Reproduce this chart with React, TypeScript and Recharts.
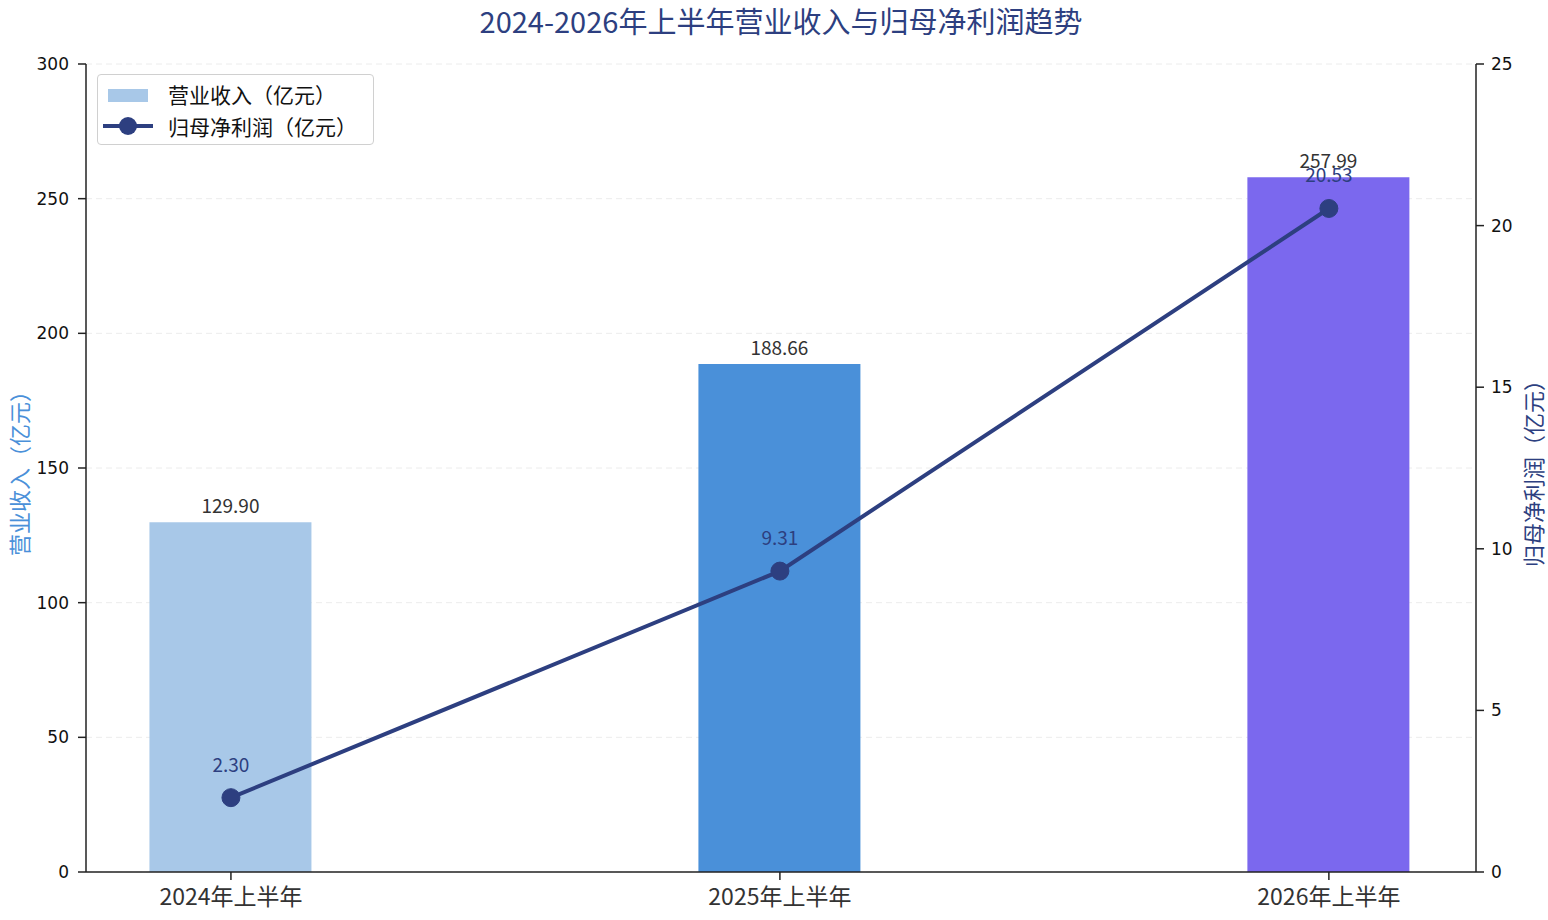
import {
  Bar,
  CartesianGrid,
  Cell,
  ComposedChart,
  LabelList,
  Line,
  XAxis,
  YAxis,
} from "recharts";

const periods = ["2024年上半年", "2025年上半年", "2026年上半年"];
const revenue = [129.9, 188.66, 257.99];
const netProfit = [2.3, 9.31, 20.53];
const barColors = ["#a8c8e8", "#4a90d9", "#7b68ee"];
const leftTicks = [0, 50, 100, 150, 200, 250, 300];
const rightTicks = [0, 5, 10, 15, 20, 25];

const data = periods.map((p, i) => ({
  x: i,
  name: p,
  revenue: revenue[i],
  profit: netProfit[i],
}));

const FONT = "'DejaVu Sans', 'Noto Sans CJK SC', sans-serif";
const CJK = "'Noto Sans CJK SC', 'DejaVu Sans', sans-serif";
const NAVY = "#2d3f80";

const LegendBox = () => (
  <div
    style={{
      position: "absolute",
      left: 97,
      top: 74,
      width: 277,
      height: 71,
      border: "1.5px solid #d0d0d0",
      borderRadius: 4,
      background: "#fff",
      fontFamily: CJK,
      fontSize: 21,
      color: "#111",
      boxSizing: "border-box",
    }}
  >
    <div style={{ position: "absolute", left: 10, top: 14, width: 40, height: 13, background: "#a8c8e8" }} />
    <div style={{ position: "absolute", left: 70, top: 4, lineHeight: "30px" }}>营业收入（亿元）</div>
    <svg style={{ position: "absolute", left: 5, top: 41 }} width={50} height={20}>
      <line x1={0} y1={10} x2={50} y2={10} stroke={NAVY} strokeWidth={4} />
      <circle cx={25} cy={10} r={9} fill={NAVY} />
    </svg>
    <div style={{ position: "absolute", left: 70, top: 36, lineHeight: "30px" }}>归母净利润（亿元）</div>
  </div>
);

const AxisTitle = ({ text, x, color }: { text: string; x: number; color: string }) => (
  <div
    style={{
      position: "absolute",
      left: x - 150,
      top: 468 - 15,
      width: 300,
      height: 30,
      lineHeight: "30px",
      textAlign: "center",
      transform: "rotate(-90deg)",
      fontFamily: CJK,
      fontSize: 22,
      color,
      whiteSpace: "nowrap",
    }}
  >
    {text}
  </div>
);

const App = () => {
  return (
    <div style={{ position: "absolute", left: 0, top: 0, width: 1548, height: 920, background: "#fff", overflow: "hidden" }}>
      <ComposedChart
        width={1548}
        height={920}
        data={data}
        margin={{ top: 64, right: 0, bottom: 0, left: 0 }}
      >
        <CartesianGrid
          vertical={false}
          yAxisId="left"
          stroke="#ececec"
          strokeDasharray="6 4"
        />
        <XAxis
          dataKey="x"
          type="number"
          domain={[-0.264, 2.268]}
          ticks={[0, 1, 2]}
          tickFormatter={(v) => periods[v]}
          allowDataOverflow
          stroke="#222"
          strokeWidth={1.5}
          tickSize={8}
          tickMargin={9}
          tick={{ fontSize: 23, fill: "#333", fontFamily: CJK }}
          height={48}
        />
        <YAxis
          yAxisId="left"
          domain={[0, 300]}
          ticks={leftTicks}
          width={86}
          stroke="#222"
          strokeWidth={1.5}
          tickSize={8}
          tickMargin={9}
          tick={{ fontSize: 17, fill: "#111", fontFamily: FONT }}
        />
        <YAxis
          yAxisId="right"
          orientation="right"
          domain={[0, 25]}
          ticks={rightTicks}
          width={72}
          stroke="#222"
          strokeWidth={1.5}
          tickSize={8}
          tickMargin={7}
          tick={{ fontSize: 17, fill: "#111", fontFamily: FONT }}
        />
        <Bar
          yAxisId="left"
          dataKey="revenue"
          barSize={162}
          isAnimationActive={false}
        >
          {data.map((d, i) => (
            <Cell key={d.name} fill={barColors[i]} />
          ))}
          <LabelList
            dataKey="revenue"
            position="top"
            offset={9}
            formatter={(v: number) => v.toFixed(2)}
            style={{ fill: "#333", fontSize: 19, fontFamily: CJK }}
          />
        </Bar>
        <Line
          yAxisId="right"
          dataKey="profit"
          stroke={NAVY}
          strokeWidth={4}
          dot={{ r: 9, fill: NAVY, stroke: NAVY, strokeWidth: 1 }}
          isAnimationActive={false}
        >
          <LabelList
            dataKey="profit"
            position="top"
            offset={26}
            formatter={(v: number) => v.toFixed(2)}
            style={{ fill: NAVY, fontSize: 19, fontFamily: CJK }}
          />
        </Line>
      </ComposedChart>
      <div
        style={{
          position: "absolute",
          left: 0,
          top: 0,
          width: 1562,
          textAlign: "center",
          fontFamily: CJK,
          fontSize: 29,
          lineHeight: "40px",
          color: NAVY,
        }}
      >
        2024-2026年上半年营业收入与归母净利润趋势
      </div>
      <AxisTitle text="营业收入（亿元）" x={18} color="#4a90d9" />
      <AxisTitle text="归母净利润（亿元）" x={1532} color={NAVY} />
      <LegendBox />
    </div>
  );
};

export default App;
